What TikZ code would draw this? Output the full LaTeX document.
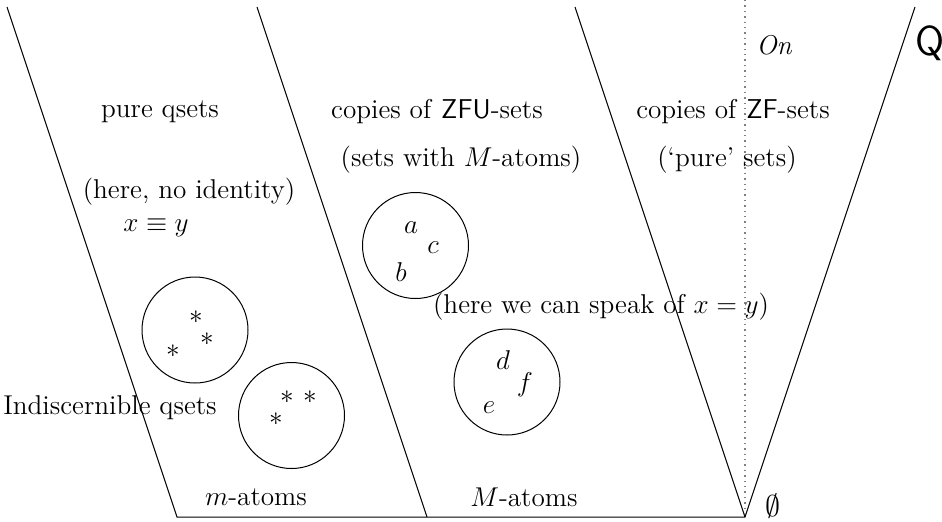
\documentclass[tikz,border=0pt]{standalone}
\usepackage{fix-cm}
\usepackage{amssymb}
\begin{document}
\begin{tikzpicture}[x=0.5pt,y=-0.5pt,
  lbl/.style={font=\fontsize{13.6}{16}\selectfont, inner sep=0pt},
  setc/.style={circle, draw, line width=0.5pt, minimum size=53pt, inner sep=0pt},
  el/.style={font=\fontsize{13.6}{16}\selectfont, inner sep=0pt},
  edge/.style={line width=0.5pt}]
\useasboundingbox (0,0) rectangle (942,521);
% frame coordinates
\coordinate (L1t) at (7,7);
\coordinate (L1b) at (177,517);
\coordinate (L2t) at (257,7);
\coordinate (L2b) at (427,517);
\coordinate (L3t) at (575,7);
\coordinate (O) at (745,517);
\coordinate (Rt) at (915,7);
\coordinate (Dt) at (745,0);
\draw[edge] (L1t) -- (L1b) -- (O) -- (Rt);
\draw[edge] (L2t) -- (L2b);
\draw[edge] (L3t) -- (O);
\draw[gray, line width=0.7pt, dash pattern=on 0.7pt off 2pt] (Dt) -- (O);
% labels
\node[lbl] (pq) at (160,112) {pure qsets};
\node[lbl] (noid) at (189,192) {(here, no identity)};
\node[lbl] (xey) at (156,228) {$x\equiv y$};
\node[lbl] (zfu) at (437,112) {copies of \textsf{ZFU}-sets};
\node[lbl] (swm) at (461,160) {(sets with $M$-atoms)};
\node[lbl] (zf) at (733,112) {copies of \textsf{ZF}-sets};
\node[lbl] (pure) at (727,160) {(`pure' sets)};
\node[lbl] (on) at (775,45) {$\mathit{On}$};
\node[font=\fontsize{21}{24}\sffamily\selectfont, inner sep=0pt] (Q) at (930,43) {Q};
\node[lbl] (ind) at (110,408) {Indiscernible qsets};
\node[lbl] (ma) at (256,497) {$m$-atoms};
\node[lbl] (Ma) at (524,497) {$M$-atoms};
\node[lbl] (spk) at (601,307) {(here we can speak of $x=y$)};
\node[font=\fontsize{15}{17}\selectfont, inner sep=0pt] (es) at (773,506) {$\emptyset$};
% circles
\node[setc] (c1) at (195,330) {};
\node[el] at (196,317) {$*$};
\node[el] at (207,339) {$*$};
\node[el] at (173,351) {$*$};
\node[setc] (c2) at (291.5,415.5) {};
\node[el] at (287,397) {$*$};
\node[el] at (310,397) {$*$};
\node[el] at (276,419) {$*$};
\node[setc] (c3) at (415.5,245.5) {};
\node[el] at (411,228) {$a$};
\node[el] at (433,248) {$c$};
\node[el] at (401,272) {$b$};
\node[setc] (c4) at (507,382) {};
\node[el] at (503,360) {$d$};
\node[el] at (525,385) {$f$};
\node[el] at (489,408) {$e$};
\end{tikzpicture}
\end{document}
